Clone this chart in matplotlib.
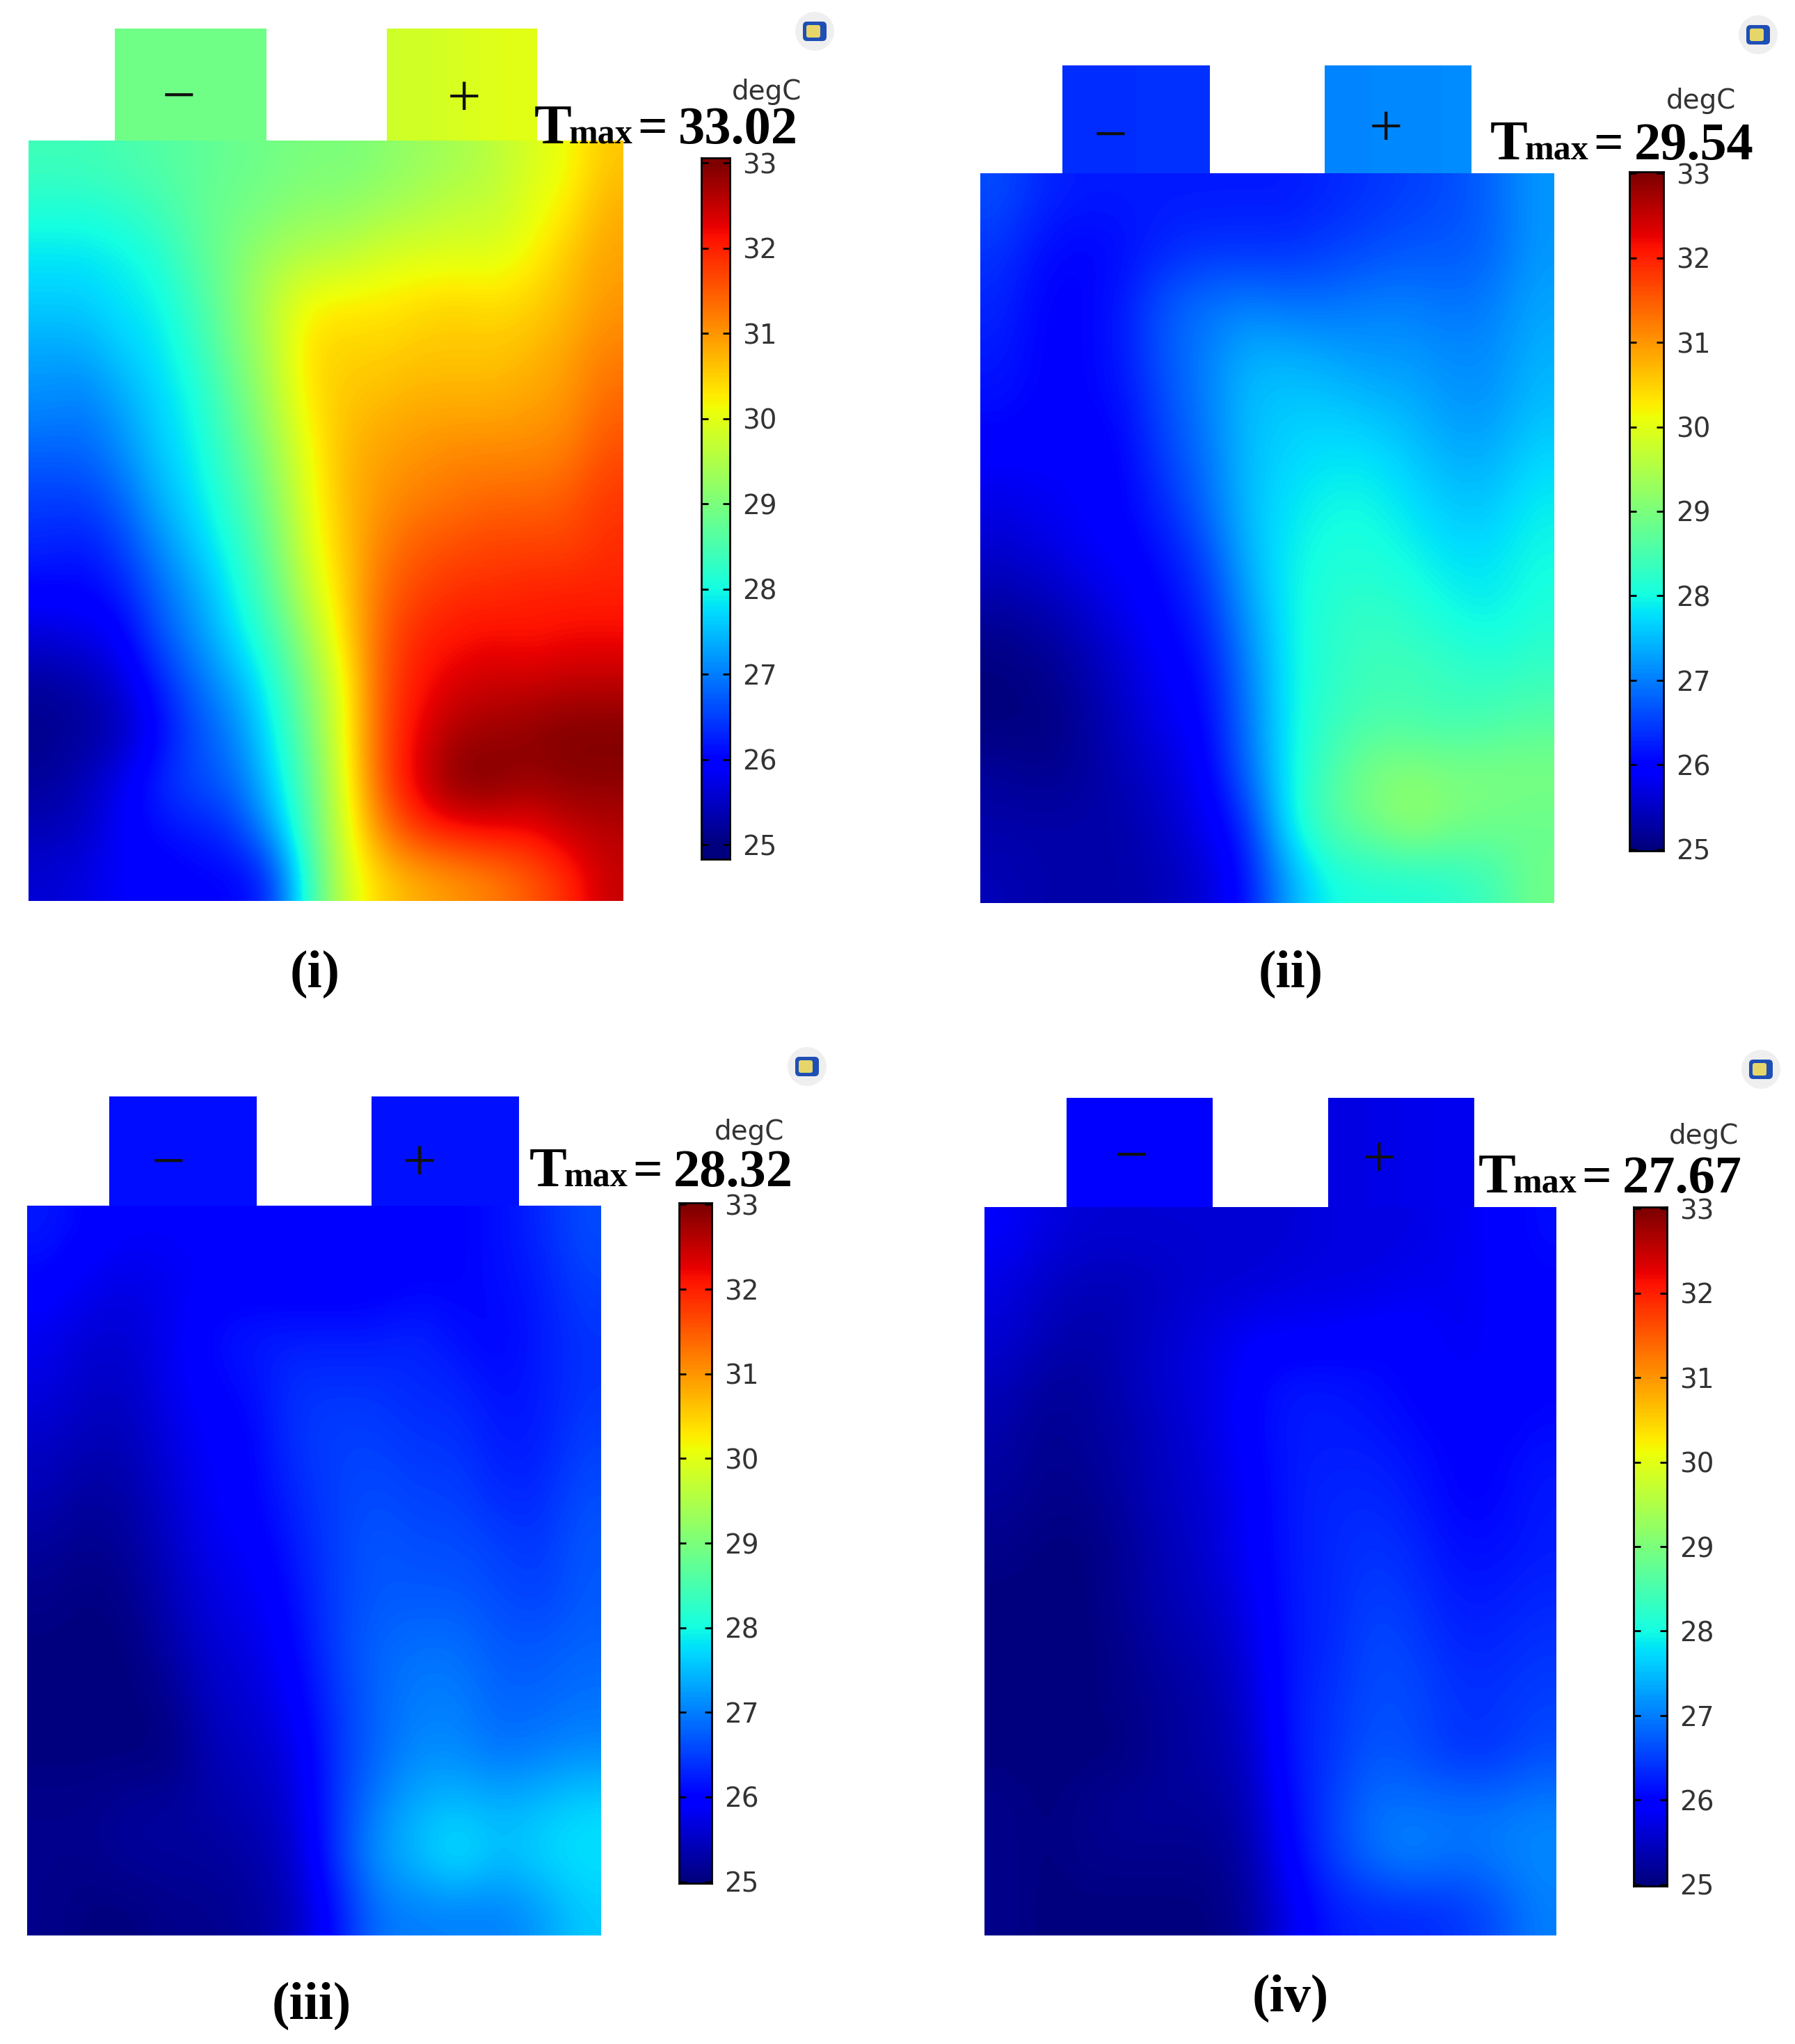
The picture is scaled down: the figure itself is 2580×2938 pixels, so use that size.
import numpy as np
import matplotlib
matplotlib.use("Agg")
import matplotlib.pyplot as plt
from matplotlib.patches import FancyBboxPatch, Circle

W, H = 2580, 2938
DPI = 100

# temperature fields (degC), rows top to bottom
temp_i = [
    [28.4, 28.4, 28.5, 28.6, 28.7, 28.8, 28.9, 29.0, 29.0, 29.1, 29.3, 29.4, 29.6, 29.9, 30.1, 30.6],
    [28.1, 28.1, 28.2, 28.4, 28.7, 28.9, 29.0, 29.2, 29.2, 29.4, 29.5, 29.7, 29.7, 30.0, 30.3, 30.8],
    [27.8, 27.8, 27.9, 28.1, 28.6, 29.0, 29.4, 29.6, 29.7, 29.9, 30.0, 30.0, 30.0, 30.2, 30.6, 30.9],
    [27.6, 27.6, 27.8, 27.9, 28.4, 29.0, 29.6, 30.2, 30.3, 30.3, 30.4, 30.5, 30.4, 30.5, 30.7, 31.0],
    [27.3, 27.3, 27.6, 27.8, 28.2, 28.9, 29.5, 30.4, 30.5, 30.5, 30.6, 30.6, 30.6, 30.7, 30.9, 31.2],
    [27.1, 27.0, 27.3, 27.7, 28.0, 28.7, 29.4, 30.3, 30.6, 30.7, 30.8, 30.8, 30.8, 30.9, 31.0, 31.4],
    [26.8, 26.8, 27.1, 27.6, 27.9, 28.5, 29.2, 30.1, 30.7, 30.9, 31.0, 31.1, 31.1, 31.1, 31.2, 31.6],
    [26.5, 26.5, 26.8, 27.4, 27.8, 28.3, 29.0, 30.0, 30.7, 31.0, 31.2, 31.3, 31.4, 31.4, 31.5, 31.8],
    [26.3, 26.2, 26.5, 27.1, 27.6, 28.1, 28.8, 29.9, 30.6, 31.2, 31.5, 31.6, 31.7, 31.7, 31.7, 31.9],
    [26.0, 26.0, 26.2, 26.8, 27.3, 27.9, 28.6, 29.7, 30.5, 31.4, 31.7, 31.9, 31.9, 32.0, 32.0, 32.0],
    [25.6, 25.7, 25.9, 26.6, 27.1, 27.7, 28.3, 29.3, 30.4, 31.5, 32.0, 32.1, 32.2, 32.1, 32.2, 32.2],
    [25.2, 25.3, 25.6, 26.2, 26.8, 27.3, 28.0, 29.0, 30.1, 31.6, 32.1, 32.4, 32.5, 32.5, 32.6, 32.6],
    [25.1, 25.2, 25.4, 26.0, 26.6, 27.0, 27.8, 28.8, 30.1, 31.6, 32.3, 32.7, 32.8, 32.9, 33.0, 33.0],
    [25.2, 25.4, 25.8, 26.3, 26.6, 26.8, 27.6, 28.6, 30.0, 31.6, 32.4, 33.0, 33.0, 32.8, 32.9, 32.9],
    [25.4, 25.5, 25.9, 26.1, 26.2, 26.4, 27.2, 28.5, 29.9, 31.2, 31.9, 32.1, 32.2, 32.2, 32.5, 32.6],
    [25.6, 25.7, 25.9, 25.9, 26.0, 26.0, 26.3, 28.2, 29.8, 30.5, 30.8, 31.0, 31.2, 31.5, 31.9, 32.5],
]
temp_ii = [
    [26.6, 26.3, 26.2, 26.2, 26.2, 26.2, 26.2, 26.2, 26.3, 26.4, 26.5, 26.6, 26.8, 27.2],
    [26.4, 26.1, 26.0, 26.1, 26.3, 26.4, 26.4, 26.4, 26.5, 26.6, 26.7, 26.7, 26.8, 27.2],
    [26.3, 26.0, 26.0, 26.2, 26.7, 26.9, 27.0, 26.9, 26.9, 27.0, 27.0, 26.9, 27.0, 27.3],
    [26.2, 26.0, 26.0, 26.2, 26.7, 27.0, 27.4, 27.4, 27.3, 27.2, 27.2, 27.1, 27.1, 27.4],
    [26.1, 26.0, 26.0, 26.1, 26.6, 27.0, 27.5, 27.6, 27.6, 27.5, 27.4, 27.2, 27.2, 27.5],
    [25.9, 25.9, 25.9, 26.0, 26.5, 26.9, 27.5, 27.7, 27.8, 27.8, 27.6, 27.4, 27.4, 27.7],
    [25.7, 25.8, 25.9, 26.0, 26.3, 26.8, 27.5, 27.8, 28.0, 28.0, 27.8, 27.6, 27.6, 27.9],
    [25.5, 25.6, 25.8, 25.9, 26.1, 26.5, 27.4, 27.9, 28.1, 28.1, 28.0, 27.8, 27.8, 28.0],
    [25.2, 25.3, 25.5, 25.8, 26.0, 26.3, 27.2, 27.9, 28.2, 28.3, 28.2, 28.0, 27.9, 28.1],
    [25.0, 25.1, 25.3, 25.6, 25.9, 26.1, 27.0, 27.9, 28.2, 28.4, 28.4, 28.3, 28.2, 28.3],
    [25.0, 25.0, 25.2, 25.5, 25.8, 26.0, 26.9, 27.9, 28.3, 28.5, 28.5, 28.4, 28.5, 28.6],
    [25.2, 25.1, 25.2, 25.4, 25.6, 25.9, 26.8, 27.9, 28.5, 29.0, 29.1, 29.0, 29.0, 29.0],
    [25.3, 25.3, 25.3, 25.3, 25.5, 25.8, 26.3, 27.9, 28.6, 28.9, 29.3, 29.0, 28.9, 28.8],
    [25.4, 25.3, 25.3, 25.3, 25.4, 25.6, 26.1, 27.3, 28.0, 28.1, 28.1, 28.2, 28.4, 28.9],
]
temp_iii = [
    [26.2, 26.0, 25.9, 25.9, 25.9, 25.9, 25.9, 25.9, 26.0, 26.0, 26.0, 26.1, 26.3, 26.6],
    [26.0, 25.8, 25.7, 25.8, 25.9, 25.9, 25.9, 25.9, 25.9, 26.0, 26.0, 26.1, 26.2, 26.5],
    [25.8, 25.6, 25.6, 25.8, 26.1, 26.2, 26.2, 26.2, 26.2, 26.3, 26.1, 26.0, 26.2, 26.4],
    [25.7, 25.5, 25.5, 25.8, 26.0, 26.1, 26.4, 26.4, 26.4, 26.3, 26.3, 26.1, 26.2, 26.4],
    [25.5, 25.4, 25.4, 25.7, 25.9, 26.0, 26.4, 26.5, 26.5, 26.4, 26.4, 26.2, 26.2, 26.5],
    [25.4, 25.2, 25.3, 25.6, 25.9, 26.0, 26.3, 26.5, 26.6, 26.5, 26.5, 26.3, 26.3, 26.6],
    [25.2, 25.1, 25.2, 25.5, 25.8, 25.9, 26.2, 26.5, 26.7, 26.6, 26.6, 26.5, 26.4, 26.7],
    [25.1, 25.0, 25.1, 25.4, 25.7, 25.8, 26.1, 26.5, 26.7, 26.7, 26.7, 26.6, 26.5, 26.7],
    [25.0, 25.0, 25.0, 25.3, 25.6, 25.7, 26.0, 26.5, 26.8, 26.9, 26.9, 26.7, 26.7, 26.8],
    [25.0, 25.0, 25.0, 25.1, 25.5, 25.6, 25.9, 26.4, 26.8, 27.0, 27.0, 26.8, 26.8, 26.9],
    [25.0, 25.0, 25.0, 25.0, 25.4, 25.5, 25.7, 26.4, 26.8, 27.1, 27.1, 26.9, 27.0, 27.1],
    [25.1, 25.1, 25.2, 25.2, 25.3, 25.4, 25.6, 26.4, 27.0, 27.4, 27.5, 27.4, 27.5, 27.7],
    [25.1, 25.1, 25.2, 25.2, 25.2, 25.3, 25.5, 26.4, 27.2, 27.5, 27.9, 27.5, 27.7, 27.8],
    [25.1, 25.0, 25.0, 25.1, 25.1, 25.2, 25.4, 26.1, 26.9, 27.0, 27.0, 27.0, 27.2, 27.6],
]
temp_iv = [
    [25.9, 25.7, 25.6, 25.6, 25.6, 25.6, 25.6, 25.6, 25.7, 25.7, 25.7, 25.8, 25.9, 26.1],
    [25.7, 25.5, 25.4, 25.4, 25.5, 25.6, 25.6, 25.7, 25.7, 25.7, 25.8, 25.8, 25.9, 26.0],
    [25.6, 25.4, 25.3, 25.4, 25.6, 25.7, 25.9, 25.9, 25.9, 26.0, 26.0, 25.8, 25.9, 26.0],
    [25.4, 25.2, 25.2, 25.4, 25.6, 25.7, 26.0, 26.2, 26.2, 26.1, 26.0, 25.9, 25.9, 26.0],
    [25.3, 25.1, 25.2, 25.3, 25.5, 25.7, 26.0, 26.2, 26.2, 26.2, 26.1, 26.0, 26.0, 26.1],
    [25.2, 25.1, 25.1, 25.3, 25.5, 25.6, 25.9, 26.2, 26.3, 26.3, 26.2, 26.0, 26.0, 26.2],
    [25.1, 25.0, 25.0, 25.2, 25.4, 25.6, 25.9, 26.2, 26.3, 26.4, 26.3, 26.1, 26.1, 26.2],
    [25.0, 25.0, 25.0, 25.2, 25.4, 25.5, 25.8, 26.2, 26.3, 26.5, 26.4, 26.2, 26.2, 26.3],
    [25.0, 25.0, 25.0, 25.1, 25.3, 25.4, 25.7, 26.2, 26.3, 26.6, 26.5, 26.3, 26.3, 26.4],
    [25.0, 25.0, 25.0, 25.1, 25.2, 25.3, 25.6, 26.2, 26.4, 26.6, 26.6, 26.4, 26.4, 26.5],
    [25.0, 25.0, 25.0, 25.0, 25.2, 25.3, 25.5, 26.2, 26.4, 26.7, 26.6, 26.4, 26.4, 26.6],
    [25.1, 25.0, 25.1, 25.2, 25.2, 25.2, 25.4, 26.1, 26.5, 26.9, 26.9, 26.9, 26.9, 27.0],
    [25.1, 25.0, 25.1, 25.1, 25.1, 25.1, 25.3, 26.0, 26.5, 26.9, 27.1, 26.9, 27.0, 27.1],
    [25.1, 25.0, 25.0, 25.0, 25.0, 25.0, 25.2, 25.8, 26.2, 26.3, 26.3, 26.4, 26.6, 27.0],
]

# tab temperatures, left and right edge of each tab
neg_tab = [[28.9, 28.9], [26.35, 26.4], [26.1, 26.1], [25.9, 25.95]]
pos_tab = [[29.8, 30.0], [27.05, 27.1], [26.15, 26.15], [25.7, 25.8]]

tmax_values = ["33.02", "29.54", "28.32", "27.67"]
captions = ["(i)", "(ii)", "(iii)", "(iv)"]
ticks = [25, 26, 27, 28, 29, 30, 31, 32, 33]
fields = [temp_i, temp_ii, temp_iii, temp_iv]

# layout in image pixels
body_box = [(41, 896, 202, 1295), (1409, 2233, 249, 1298), (39, 864, 1733, 2782), (1415, 2237, 1735, 2782)]
neg_box = [(165, 382, 41, 202), (1527, 1739, 94, 249), (157, 369, 1576, 1733), (1533, 1743, 1578, 1735)]
pos_box = [(556, 772, 41, 202), (1904, 2115, 94, 249), (534, 746, 1576, 1733), (1909, 2119, 1578, 1735)]
bar_box = [(1008, 1049, 227, 1235), (2342, 2391, 247, 1223), (976, 1023, 1729, 2707), (2348, 2396, 1735, 2711)]
bar_lim = [(24.83, 33.06), (24.98, 33.02), (24.98, 33.02), (24.98, 33.02)]
neg_xy = [(257, 144), (1596, 200), (242, 1676), (1626, 1667)]
pos_xy = [(667, 146), (1992, 189), (603, 1676), (1982, 1671)]
degc_xy = [(1102, 132), (2445, 145), (1077, 1627), (2449, 1633)]
tmax_xy = [(768, 206), (2142, 229), (761, 1705), (2125, 1714)]
cap_xy = [(453, 1400), (1855, 1400), (448, 2883), (1855, 2872)]
icon_xy = [(1171, 45), (2527, 50), (1160, 1533), (2531, 1537)]

fig = plt.figure(figsize=(W / DPI, H / DPI), dpi=DPI, facecolor="white")


def px_axes(box):
    x0, x1, y0, y1 = box
    ax = fig.add_axes([x0 / W, 1 - y1 / H, (x1 - x0) / W, (y1 - y0) / H])
    return ax


def heat(box, data):
    ax = px_axes(box)
    ax.imshow(np.array(data), cmap="jet", vmin=25, vmax=33, aspect="auto", interpolation="bicubic")
    ax.axis("off")


for k in range(4):
    heat(body_box[k], fields[k])
    heat(neg_box[k], [neg_tab[k]])
    heat(pos_box[k], [pos_tab[k]])

    # colour bar
    cax = px_axes(bar_box[k])
    lo, hi = bar_lim[k]
    levels = np.linspace(lo, hi, 400).reshape(-1, 1)
    cax.imshow(levels, cmap="jet", vmin=25, vmax=33, aspect="auto", origin="lower", extent=(0, 1, lo, hi))
    cax.set_xticks([])
    cax.yaxis.tick_right()
    cax.set_yticks(ticks)
    cax.tick_params(axis="y", direction="in", left=True, right=True, length=7, width=2,
                    labelsize=28, labelcolor="#333333", pad=13)
    for s in cax.spines.values():
        s.set_linewidth(2)

# everything else goes on a transparent layer in image pixels
top = fig.add_axes([0, 0, 1, 1], facecolor="none")
top.set_xlim(0, W)
top.set_ylim(H, 0)
top.axis("off")

for k in range(4):
    top.text(*neg_xy[k], "\u2212", family="Liberation Serif", fontsize=62, ha="center", va="center", color="#111111")
    top.text(*pos_xy[k], "+", family="Liberation Serif", fontsize=62, ha="center", va="center", color="#111111")
    top.text(*degc_xy[k], "degC", family="DejaVu Sans", fontsize=28, ha="center", va="center", color="#333333")

    x, y = tmax_xy[k]
    top.text(x, y, "T", family="Liberation Serif", fontsize=58, weight="bold", va="baseline")
    top.text(x + 50, y, "max", family="Liberation Serif", fontsize=36, weight="bold", va="baseline")
    top.text(x + 148, y, "=", family="Liberation Serif", fontsize=54, weight="bold", va="baseline")
    top.text(x + 207, y, tmax_values[k], family="Liberation Serif", fontsize=55, weight="bold", va="baseline")

    top.text(*cap_xy[k], captions[k], family="Liberation Serif", fontsize=55, weight="bold", ha="center", va="center")

    # little logo top right of each panel
    ix, iy = icon_xy[k]
    top.add_patch(Circle((ix, iy), 28, fc="#ececec", ec="none", alpha=0.8))
    top.add_patch(FancyBboxPatch((ix - 16, iy - 13), 32, 26, boxstyle="round,pad=1,rounding_size=6",
                                 fc="#1f4fb5", ec="none"))
    top.add_patch(FancyBboxPatch((ix - 12, iy - 9), 20, 18, boxstyle="round,pad=0,rounding_size=3",
                                 fc="#e6d66a", ec="none"))

fig.savefig("out.png", dpi=DPI)
